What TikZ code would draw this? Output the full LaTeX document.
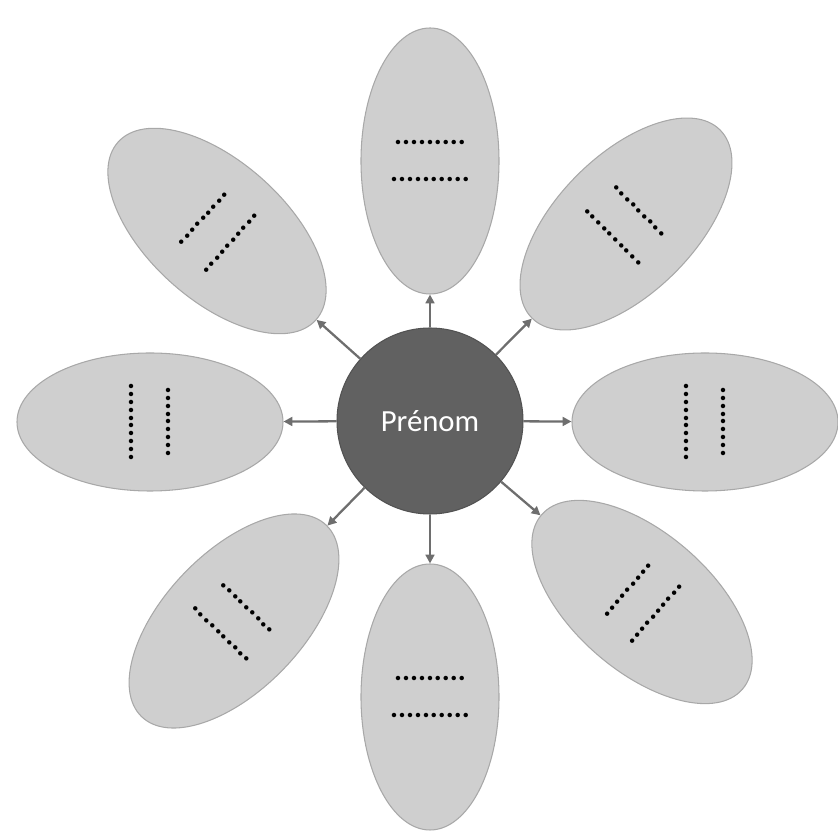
\documentclass[tikz,border=0pt]{standalone}
\usepackage{fontspec}
\setmainfont{Carlito}
\usetikzlibrary{shapes.geometric,arrows.meta}
\definecolor{petale}{HTML}{CFCFCF}
\definecolor{bordpetale}{HTML}{A8A8A8}
\definecolor{coeurgris}{HTML}{616161}
\definecolor{flechegris}{HTML}{6E6E6E}
\tikzset{
  petal/.style={ellipse, fill=petale, draw=bordpetale, line width=0.6pt, inner sep=0pt,
    minimum width=2.76cm, minimum height=5.32cm, align=center,
    font=\fontsize{17}{21}\selectfont\bfseries},
  coeur/.style={circle, fill=coeurgris, draw=coeurgris!85!black, line width=0.6pt,
    minimum size=3.72cm, text=white, font=\fontsize{17.5}{21}\selectfont},
  fleche/.style={draw=flechegris, line width=1.3pt, -{Triangle[length=5pt,width=5pt]}}
}
\begin{document}
\begin{tikzpicture}
   \useasboundingbox (0,0) rectangle (16.76,16.68);
   \node[petal] (haut) at (8.60,13.46) {.........\\..........};
   \node[petal] (bas) at (8.60,2.74) {.........\\..........};
   \node[petal, rotate=-90] (droite) at (14.10,8.24) {.........\\..........};
   \node[petal, rotate=-90] (gauche) at (3.00,8.24) {.........\\..........};
   \node[petal, rotate=48] (hautgauche) at (4.34,12.06) {.........\\..........};
   \node[petal, rotate=-45] (hautdroite) at (12.52,12.20) {.........\\..........};
   \node[petal, rotate=-44] (basgauche) at (4.68,4.26) {.........\\..........};
   \node[petal, rotate=49] (basdroite) at (12.84,4.64) {.........\\..........};
   \node[coeur] (prenom) at (8.60,8.26) {Prénom};
   \draw[fleche] (prenom) -- (haut);
   \draw[fleche] (prenom) -- (bas);
   \draw[fleche] (prenom) -- (droite);
   \draw[fleche] (prenom) -- (gauche);
   \draw[fleche] (prenom) -- (hautgauche);
   \draw[fleche] (prenom) -- (hautdroite);
   \draw[fleche] (prenom) -- (basgauche);
   \draw[fleche] (prenom) -- (basdroite);
\end{tikzpicture}
\end{document}
